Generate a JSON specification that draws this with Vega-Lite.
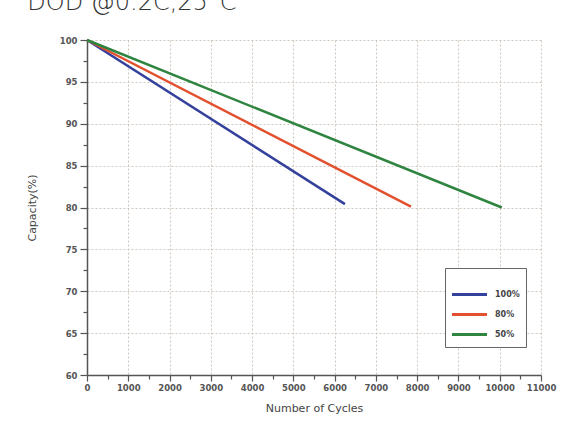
{
  "$schema": "https://vega.github.io/schema/vega-lite/v6.json",
  "autosize": "none",
  "width": 454,
  "height": 335,
  "padding": {"left": 87, "top": 40, "right": 40, "bottom": 69},
  "background": "white",
  "title": {
    "text": "DOD @0.2C,25°C",
    "anchor": "start",
    "dx": 1,
    "offset": 20,
    "fontSize": 24,
    "font": "DejaVu Sans",
    "fontWeight": 200,
    "color": "#333333"
  },
  "data": {
    "values": [
      {"cycles": 0, "capacity": 100, "dod": "100%"},
      {"cycles": 6250, "capacity": 80.4, "dod": "100%"},
      {"cycles": 0, "capacity": 100, "dod": "80%"},
      {"cycles": 7850, "capacity": 80.1, "dod": "80%"},
      {"cycles": 0, "capacity": 100, "dod": "50%"},
      {"cycles": 10050, "capacity": 80, "dod": "50%"}
    ]
  },
  "mark": {"type": "line", "strokeWidth": 2.5, "clip": false},
  "encoding": {
    "x": {
      "field": "cycles",
      "type": "quantitative",
      "scale": {"domain": [0, 11000], "nice": false},
      "axis": {
        "title": "Number of Cycles",
        "titlePadding": 11,
        "titleFont": "DejaVu Sans",
        "titleFontSize": 11,
        "titleFontWeight": "normal",
        "titleColor": "#444",
        "values": [0,500,1000,1500,2000,2500,3000,3500,4000,4500,5000,5500,6000,6500,7000,7500,8000,8500,9000,9500,10000,10500,11000],
        "labelExpr": "datum.value % 1000 === 0 ? datum.value : ''",
        "labelFont": "DejaVu Sans",
        "labelFontSize": 8.5,
        "labelFontWeight": 600,
        "labelColor": "#555",
        "labelPadding": 2,
        "labelFlush": false,
        "domainColor": "#555",
        "domainWidth": 1.5,
        "tickColor": "#555",
        "tickSize": {"condition": {"test": "datum.value % 1000 !== 0", "value": 4}, "value": 6},
        "tickWidth": 1.2,
        "grid": true,
        "gridColor": "#cfc6bd",
        "gridDash": [2, 2],
        "gridOpacity": {"condition": {"test": "datum.value % 1000 !== 0", "value": 0}, "value": 1}
      }
    },
    "y": {
      "field": "capacity",
      "type": "quantitative",
      "scale": {"domain": [60, 100], "nice": false, "zero": false},
      "axis": {
        "title": "Capacity(%)",
        "titlePadding": 22,
        "titleFont": "DejaVu Sans",
        "titleFontSize": 11,
        "titleFontWeight": "normal",
        "titleColor": "#444",
        "values": [60,62.5,65,67.5,70,72.5,75,77.5,80,82.5,85,87.5,90,92.5,95,97.5,100],
        "labelExpr": "datum.value % 5 === 0 ? datum.value : ''",
        "labelFont": "DejaVu Sans",
        "labelFontSize": 8.5,
        "labelFontWeight": 600,
        "labelColor": "#555",
        "labelPadding": 3,
        "labelFlush": false,
        "domainColor": "#555",
        "domainWidth": 1.5,
        "tickColor": "#555",
        "tickSize": {"condition": {"test": "datum.value % 5 !== 0", "value": 4}, "value": 7},
        "tickWidth": 1.2,
        "grid": true,
        "gridColor": "#cfc6bd",
        "gridDash": [2, 2],
        "gridOpacity": {"condition": {"test": "datum.value % 5 !== 0", "value": 0}, "value": 1}
      }
    },
    "color": {
      "field": "dod",
      "type": "nominal",
      "scale": {"domain": ["100%", "80%", "50%"], "range": ["#33409c", "#e2502e", "#2f8440"]},
      "legend": {
        "title": " ",
        "titleFontSize": 10,
        "titlePadding": 4,
        "orient": "none",
        "legendX": 358,
        "legendY": 228,
        "direction": "vertical",
        "symbolType": "M-3.5,0H3.5",
        "symbolSize": 100,
        "symbolOffset": 12,
        "symbolStrokeWidth": 3,
        "labelFont": "DejaVu Sans",
        "labelFontSize": 8,
        "labelFontWeight": 600,
        "labelColor": "#444",
        "labelOffset": 19,
        "rowPadding": 7,
        "padding": 6,
        "strokeColor": "#666",
        "fillColor": "white",
        "labelLimit": 40
      }
    }
  },
  "config": {"view": {"stroke": null}}
}
